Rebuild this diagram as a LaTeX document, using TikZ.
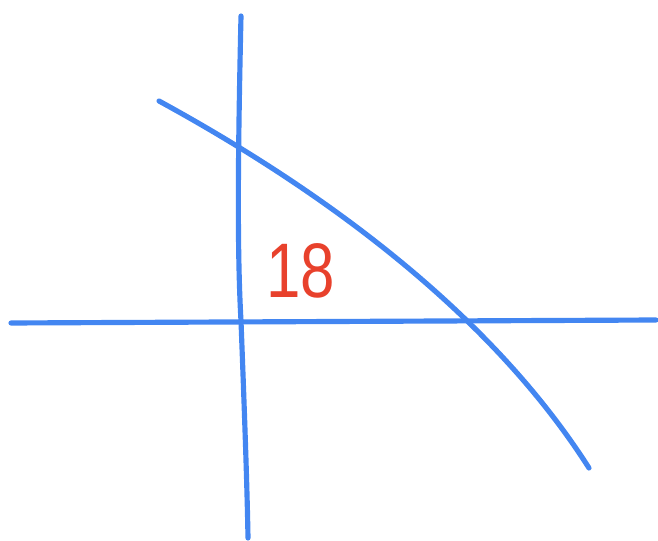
\documentclass[tikz,border=0pt]{standalone}
\usepackage{fontspec}
\setsansfont{Liberation Sans}
\usetikzlibrary{positioning}

\begin{document}
\begin{tikzpicture}[
    x=0.03cm, y=-0.03cm,
    stroke/.style={draw=penblue, line width=4.4pt, line cap=round, line join=round},
    mark18/.style={text=penred, font=\sffamily\fontsize{66}{66}\selectfont, inner sep=0pt, xscale=0.8}
]
    \definecolor{penblue}{HTML}{4386F1}
    \definecolor{penred}{HTML}{E8412C}

    % ================= FRAME =================
    \useasboundingbox (0,0) rectangle (658,541);

    % ================= AXES =================
    \coordinate (VTop) at (241,16);
    \coordinate (VBot) at (248,538);
    \coordinate (HLeft) at (11,323);
    \coordinate (HRight) at (656,320);

    \draw[stroke] (VTop) .. controls (238,150) and (237,250) .. (241,321)
        .. controls (244,400) and (247,480) .. (VBot);
    \draw[stroke] (HLeft) -- (HRight);

    % ================= CURVE =================
    \coordinate (CStart) at (159,101);
    \coordinate (CEnd) at (589,468);
    \draw[stroke] (CStart) .. controls (300,178) and (482,300) .. (CEnd);

    % ================= LABEL =================
    \node[mark18] (Label) at (301,271) {18};

\end{tikzpicture}
\end{document}
